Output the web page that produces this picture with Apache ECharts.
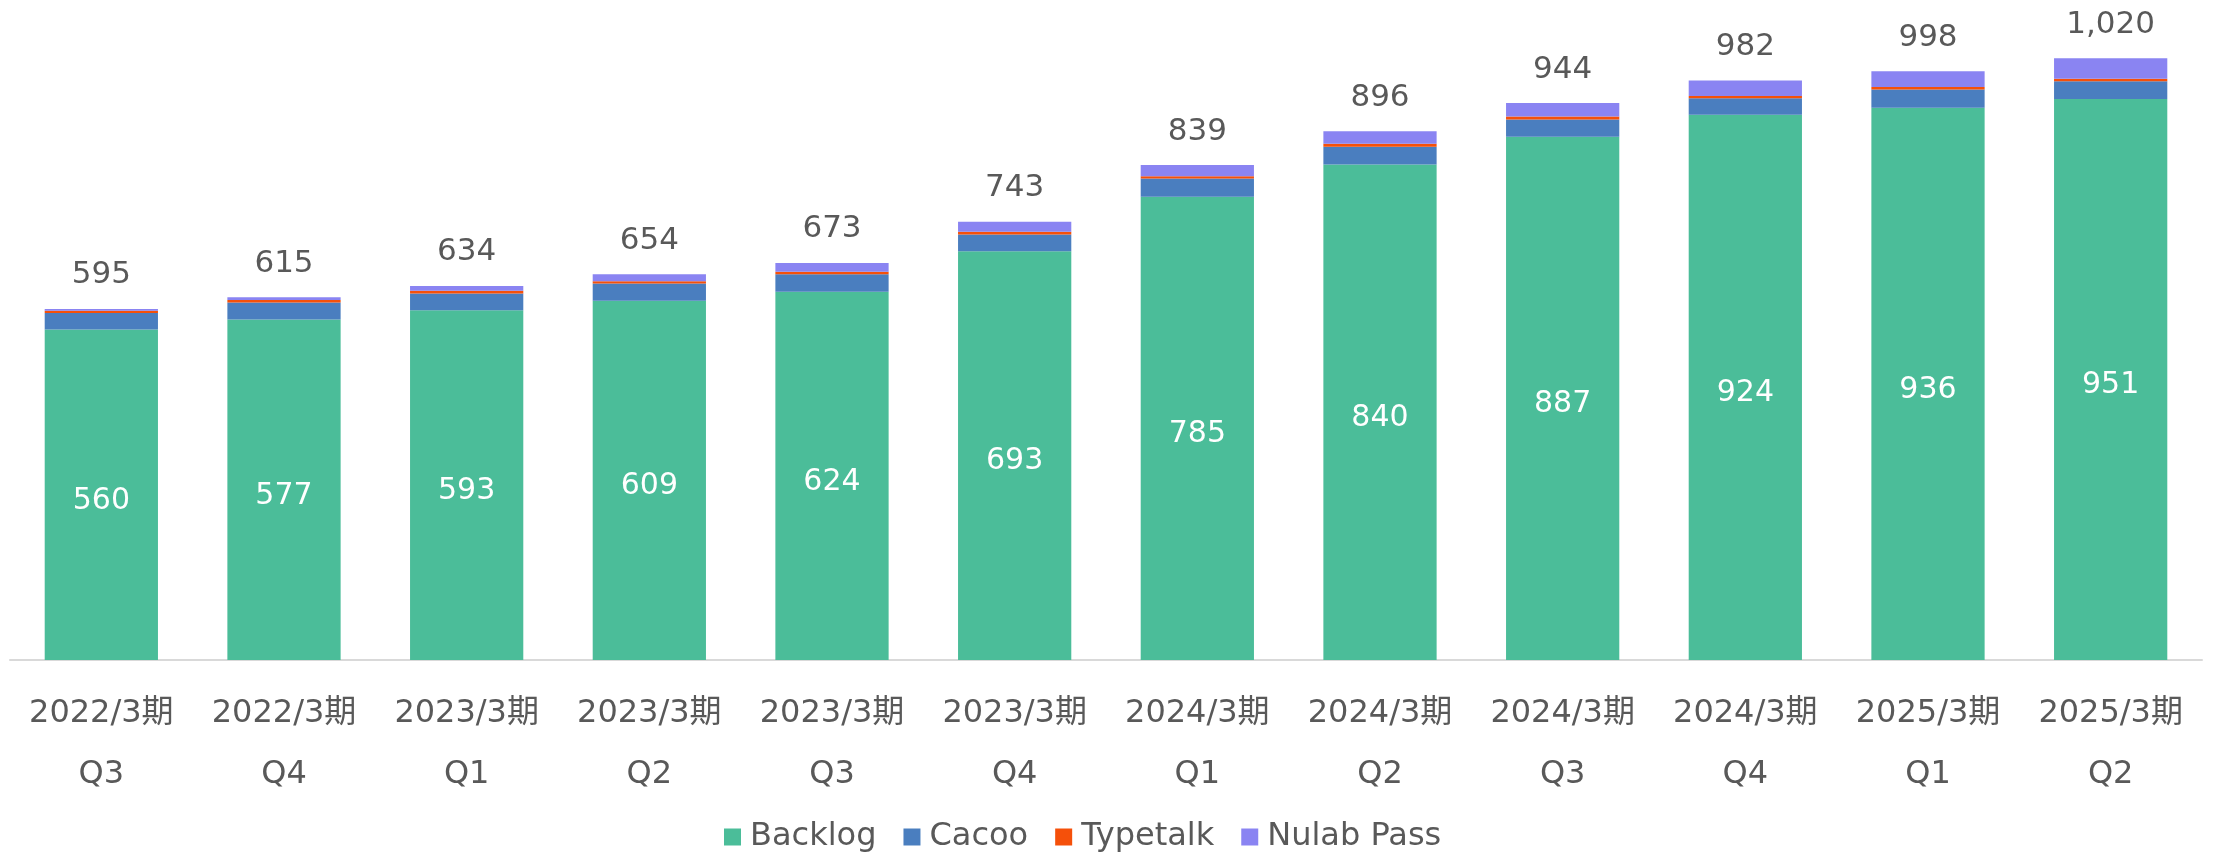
<!DOCTYPE html>
<html>
<head>
<meta charset="utf-8">
<script src="https://cdn.jsdelivr.net/npm/echarts@6/dist/echarts.min.js"></script>
<style>
  html, body { margin: 0; padding: 0; background: #fff; }
  #chart { width: 2216px; height: 858px; }
</style>
</head>
<body>
<div id="chart"></div>
<script>
// カテゴリ（期・四半期）
const periods = ['2022/3期', '2022/3期', '2023/3期', '2023/3期', '2023/3期', '2023/3期',
  '2024/3期', '2024/3期', '2024/3期', '2024/3期', '2025/3期', '2025/3期'];
const quarters = ['Q3', 'Q4', 'Q1', 'Q2', 'Q3', 'Q4', 'Q1', 'Q2', 'Q3', 'Q4', 'Q1', 'Q2'];

// 各サービスの値
const backlog = [560, 577, 593, 609, 624, 693, 785, 840, 887, 924, 936, 951];
const cacoo = [28, 29, 28, 29, 30, 28, 31, 30, 29, 28, 31, 30];
const typetalk = [4, 4, 5, 4, 4, 5, 4, 5, 5, 4, 4, 4];
const nulabPass = [3, 5, 8, 12, 15, 17, 19, 21, 23, 26, 27, 35];

// 合計ラベル
const totals = [595, 615, 634, 654, 673, 743, 839, 896, 944, 982, 998, 1020];

const categories = periods.map((p, i) => p + '\n' + quarters[i]);

const textColor = '#595959';
const fontFamily = '"DejaVu Sans", "Noto Sans CJK JP", sans-serif';

const chart = echarts.init(document.getElementById('chart'));

const option = {
  animation: false,
  textStyle: { fontFamily: fontFamily },
  color: ['#4BBD99', '#4A7EBF', '#F5500A', '#8A84F2'],
  legend: {
    bottom: 0,
    left: 719,
    itemWidth: 17,
    itemHeight: 17,
    itemGap: 27,
    icon: 'rect',
    textStyle: {
      color: textColor,
      fontSize: 32,
      fontFamily: fontFamily,
      padding: [0, 0, 0, 4]
    },
    data: ['Backlog', 'Cacoo', 'Typetalk', 'Nulab Pass']
  },
  grid: {
    left: 10,
    right: 14,
    top: 11,
    bottom: 198,
    containLabel: false
  },
  xAxis: {
    type: 'category',
    data: categories,
    axisLine: { lineStyle: { color: '#D9D9D9', width: 2 } },
    axisTick: { show: false },
    axisLabel: {
      color: textColor,
      fontSize: 32,
      lineHeight: 61,
      margin: 23,
      interval: 0,
      fontFamily: fontFamily
    }
  },
  yAxis: {
    type: 'value',
    min: 0,
    max: 1100,
    show: false,
    splitLine: { show: false }
  },
  series: [
    {
      name: 'Backlog',
      type: 'bar',
      stack: 'total',
      barWidth: '62%',
      data: backlog,
      label: {
        show: true,
        position: 'inside',
        offset: [0, 6],
        color: '#fff',
        fontSize: 30,
        fontFamily: fontFamily
      }
    },
    {
      name: 'Cacoo',
      type: 'bar',
      stack: 'total',
      data: cacoo
    },
    {
      name: 'Typetalk',
      type: 'bar',
      stack: 'total',
      data: typetalk
    },
    {
      name: 'Nulab Pass',
      type: 'bar',
      stack: 'total',
      data: nulabPass,
      // 合計値を一番上に表示
      label: {
        show: true,
        position: 'top',
        distance: 18,
        color: textColor,
        fontSize: 31,
        fontFamily: fontFamily,
        formatter: (p) => totals[p.dataIndex].toLocaleString('en-US')
      }
    }
  ]
};

chart.setOption(option);
</script>
</body>
</html>
